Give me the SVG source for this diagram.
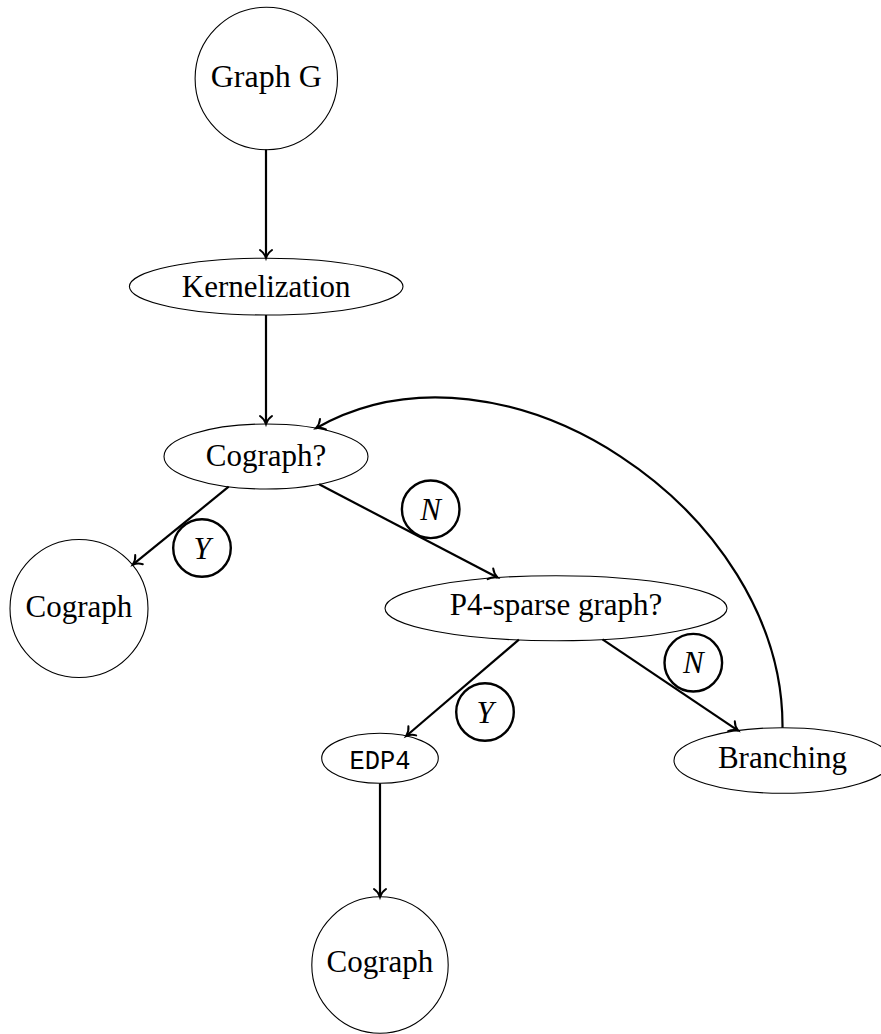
<svg xmlns="http://www.w3.org/2000/svg" width="881" height="1034" viewBox="0 0 881 1034">
  <style>
    .node { fill: none; stroke: #000; stroke-width: 1.1; }
    .edge { fill: none; stroke: #000; stroke-width: 2.2; }
    .lbl  { fill: none; stroke: #000; stroke-width: 2.4; }
    .t    { font-family: "Liberation Serif", serif; font-size: 31px; text-anchor: middle; fill: #000; }
    .tt   { font-family: "Liberation Mono", monospace; font-size: 27px; text-anchor: middle; fill: #000; }
    .it   { font-style: italic; }
  </style>
  <defs>
    <marker id="arrow" markerUnits="userSpaceOnUse" viewBox="-10 -8 12 16" refX="0" refY="0"
            markerWidth="12" markerHeight="16" orient="auto" overflow="visible">
      <path d="M -8,-6 C -6,-3 -2.5,-0.8 0,0 C -2.5,0.8 -6,3 -8,6" fill="none" stroke="#000"
            stroke-width="2" stroke-linecap="round"/>
    </marker>
  </defs>
  <rect width="881" height="1034" fill="#fff"/>

  <!-- connectors -->
  <g id="connectors">
    <line class="edge" x1="266" y1="149.5" x2="266" y2="258" marker-end="url(#arrow)"/>
    <line class="edge" x1="266" y1="315" x2="266" y2="424" marker-end="url(#arrow)"/>
    <line class="edge" x1="228.7" y1="486.7" x2="132.8" y2="564.7" marker-end="url(#arrow)"/>
    <line class="edge" x1="319.1" y1="484.3" x2="497.5" y2="577.5" marker-end="url(#arrow)"/>
    <line class="edge" x1="518.9" y1="639.7" x2="406.2" y2="736" marker-end="url(#arrow)"/>
    <line class="edge" x1="602.5" y1="639.3" x2="738.1" y2="730.6" marker-end="url(#arrow)"/>
    <line class="edge" x1="380" y1="783.3" x2="380" y2="897" marker-end="url(#arrow)"/>
    <path class="edge" d="M 782.5,727.7 C 784.3,510.9 504.6,321.3 316,428.2" marker-end="url(#arrow)"/>
    <!-- edge labels -->
    <g id="label-y1"><circle class="lbl" cx="202" cy="548" r="28.8"/><text class="t it" x="202" y="558.5">Y</text></g>
    <g id="label-n1"><circle class="lbl" cx="430.7" cy="509.3" r="28.8"/><text class="t it" x="430.7" y="519.8">N</text></g>
    <g id="label-y2"><circle class="lbl" cx="485" cy="712" r="28.8"/><text class="t it" x="485" y="722.5">Y</text></g>
    <g id="label-n2"><circle class="lbl" cx="693.3" cy="662.7" r="28.8"/><text class="t it" x="693.3" y="673.2">N</text></g>
  </g>

  <!-- nodes -->
  <g id="graph-g">
    <circle class="node" cx="266.3" cy="78.5" r="71.2"/>
    <text class="t" x="266.3" y="86.8" style="font-size:32px">Graph G</text>
  </g>
  <g id="kernelization">
    <ellipse class="node" cx="266.2" cy="286.6" rx="136.8" ry="28.4"/>
    <text class="t" x="266.2" y="297.2">Kernelization</text>
  </g>
  <g id="cograph-test">
    <ellipse class="node" cx="266" cy="456.5" rx="102" ry="32.5"/>
    <text class="t" x="266" y="465.5">Cograph?</text>
  </g>
  <g id="cograph-left">
    <circle class="node" cx="79" cy="608.5" r="69"/>
    <text class="t" x="79" y="616.5">Cograph</text>
  </g>
  <g id="p4-sparse-test">
    <ellipse class="node" cx="556" cy="608.2" rx="171" ry="32.5"/>
    <text class="t" x="556" y="614.5">P4-sparse graph?</text>
  </g>
  <g id="edp4">
    <ellipse class="node" cx="380" cy="758.3" rx="58.3" ry="25"/>
    <text class="tt" x="380" y="769.3" textLength="61" lengthAdjust="spacingAndGlyphs">EDP4</text>
  </g>
  <g id="branching">
    <ellipse class="node" cx="782.5" cy="760.5" rx="108.5" ry="32.8"/>
    <text class="t" x="782.5" y="767.8">Branching</text>
  </g>
  <g id="cograph-bottom">
    <circle class="node" cx="380" cy="965" r="68.2"/>
    <text class="t" x="380" y="972">Cograph</text>
  </g>
</svg>
